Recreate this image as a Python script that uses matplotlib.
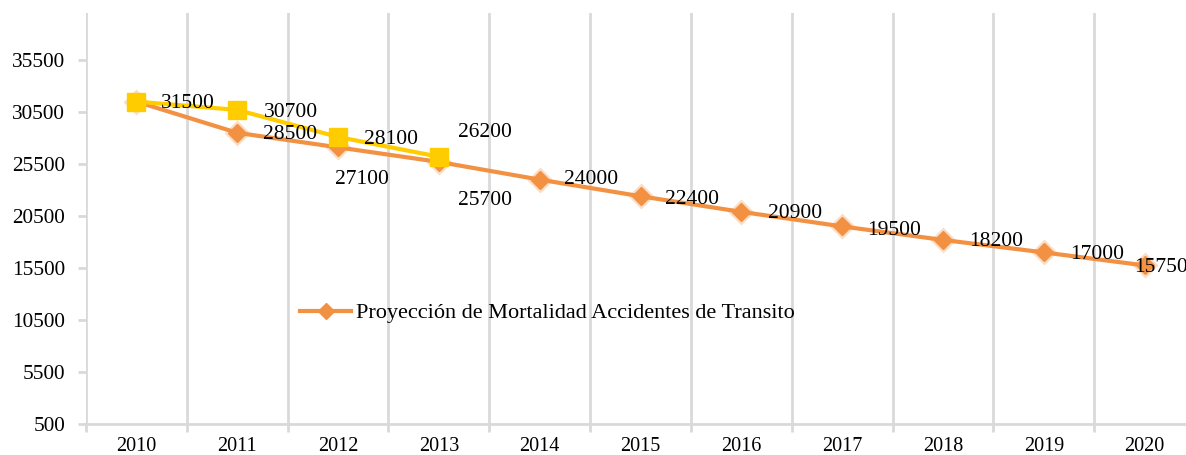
import matplotlib
matplotlib.use("Agg")
import matplotlib.pyplot as plt
from matplotlib.ticker import FixedLocator
from matplotlib.lines import Line2D

plt.rcParams['font.family'] = ['Liberation Serif', 'DejaVu Serif']

years = ['2010', '2011', '2012', '2013', '2014', '2015', '2016', '2017', '2018', '2019', '2020']
proyeccion = [31500, 28500, 27100, 25700, 24000, 22400, 20900, 19500, 18200, 17000, 15750]
real = [31500, 30700, 28100, 26200]
yticks = [500, 5500, 10500, 15500, 20500, 25500, 30500, 35500]
legend_label = 'Proyección de Mortalidad Accidentes de Transito'

# label offsets in pixels (dx, dy) relative to point, ha='left'
orange_offsets = [(24, -2), (26, -2), (-3, -32), (19, -39), (24, 0), (25, -3),
                  (27, -2), (25, -4), (26, -2), (26, -2), (-10, -2)]
yellow_offsets = [(24, -2), (27, -3), (26, -3), (19, 24)]

W, H = 1186, 455
fig = plt.figure(figsize=(W / 100, H / 100), dpi=100)
ax = fig.add_axes([86 / W, 1 - 424 / H, (1195 - 86) / W, (424 - 12.7) / H])

orange = '#F39143'
yellow = '#FFCC00'
grid = '#D9D9D9'

x = list(range(len(years)))
ax.plot(x, proyeccion, color=orange, lw=0, marker='D', markersize=13,
        markerfacecolor=orange, markeredgecolor='none', alpha=0.3, zorder=2)
ax.plot(x, proyeccion, color=orange, lw=3.0, marker='D', markersize=9,
        markerfacecolor=orange, markeredgecolor=orange, zorder=3)
ax.plot(range(len(real)), real, color=yellow, lw=3.0, marker='s', markersize=13,
        markerfacecolor=yellow, markeredgecolor=yellow, zorder=4)

for i, v in enumerate(proyeccion):
    if i == 0:
        continue
    dx, dy = orange_offsets[i]
    ax.annotate(str(v), (i, v), xytext=(dx, dy), textcoords='offset pixels',
                ha='left', va='center', fontsize=15.5, color='black', zorder=6)
for i, v in enumerate(real):
    dx, dy = yellow_offsets[i]
    ax.annotate(str(v), (i, v), xytext=(dx, dy), textcoords='offset pixels',
                ha='left', va='center', fontsize=15.5, color='black', zorder=6)

ax.set_xlim(-0.5, len(years) - 0.5)
ax.set_ylim(500, 40050)
ax.set_xticks(x)
ax.set_xticklabels(years)
ax.xaxis.set_minor_locator(FixedLocator([i - 0.5 for i in range(len(years) + 1)]))
ax.set_yticks(yticks)
ax.set_yticklabels([str(t) for t in yticks])

ax.grid(False)
ax.xaxis.grid(True, which='minor', color=grid, lw=2)
for s in ['top', 'right', 'left']:
    ax.spines[s].set_visible(False)
ax.spines['bottom'].set_color(grid)
ax.spines['bottom'].set_linewidth(2)

ax.tick_params(axis='x', which='major', length=0, labelsize=14.5, pad=9.5)
ax.tick_params(axis='x', which='minor', length=6, color=grid, width=2)
ax.tick_params(axis='y', which='major', length=6, color=grid, width=2, labelsize=15.3, pad=9)

handle = Line2D([], [], color=orange, lw=3.0, marker='D', markersize=8,
                markerfacecolor=orange, markeredgecolor=orange)
fig.legend([handle], [legend_label], loc='center left', bbox_to_anchor=(300 / W, 1 - 313 / H),
           frameon=False, fontsize=16, borderpad=0, borderaxespad=0,
           handlelength=2.3, handletextpad=0.2)

fig.savefig('out.png', dpi=100)
